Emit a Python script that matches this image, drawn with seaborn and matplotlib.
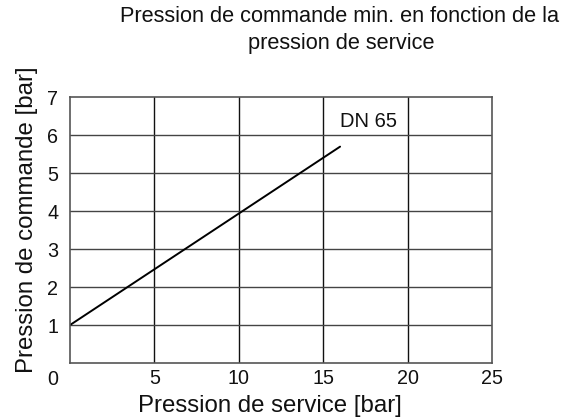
import matplotlib
matplotlib.use("Agg")
import matplotlib.pyplot as plt
import seaborn as sns
import pandas as pd

# Minimum control pressure vs. operating pressure, DN 65
service_pressure = [0, 16]
control_pressure = [1.0, 5.7]
series_label = "DN 65"
x_ticks = [5, 10, 15, 20, 25]
y_ticks = [1, 2, 3, 4, 5, 6, 7]

sns.set_theme(style="white")
plt.rcParams["font.family"] = ["Liberation Sans", "DejaVu Sans"]

df = pd.DataFrame({"service": service_pressure, "commande": control_pressure})

W, H = 586, 418
x0, x1, y_top, y_bot = 70, 492, 97.3, 363
fig = plt.figure(figsize=(W / 100, H / 100), dpi=100)
ax = fig.add_axes([x0 / W, 1 - y_bot / H, (x1 - x0) / W, (y_bot - y_top) / H])

sns.lineplot(data=df, x="service", y="commande", color="black", linewidth=1.4, ax=ax)

tick_fs = 14.2
ax.set_xlim(0, 25)
ax.set_ylim(0, 7)
ax.set_xticks(x_ticks)
ax.set_yticks(y_ticks)
ax.tick_params(axis="both", length=0, labelsize=tick_fs, colors="#111111")
ax.tick_params(axis="x", pad=4.5)
ax.tick_params(axis="y", pad=8.5)

for v in x_ticks[:-1]:
    ax.axvline(v, color="#111111", linewidth=1.0, zorder=0)
for v in y_ticks[:-1]:
    ax.axhline(v, color="#444444", linewidth=1.0, zorder=0)
for s in ax.spines.values():
    s.set_color("#555555")
    s.set_linewidth(1.2)

aw, ah = x1 - x0, y_bot - y_top

# shared origin label at the corner
ax.text((53 - x0) / aw, (y_bot - 379.5) / ah, "0", transform=ax.transAxes,
        ha="center", va="center", fontsize=tick_fs, color="#111111")

ax.text(16, 6.35, series_label, ha="left", va="center", fontsize=14.5, color="#111111")

ax.set_xlabel("Pression de service [bar]", fontsize=17.3, color="#111111")
ax.xaxis.label.set_va("baseline")
ax.xaxis.set_label_coords((270 - x0) / aw, (y_bot - 412) / ah)

ax.set_ylabel("Pression de commande [bar]", fontsize=17.3, color="#111111")
ax.yaxis.label.set_va("baseline")
ax.yaxis.set_label_coords((33 - x0) / aw, (y_bot - 219.5) / ah)

fig.text(340 / W, 1 - 17 / H, "Pression de commande min. en fonction de la",
         ha="center", va="center", fontsize=15.7, color="#111111")
fig.text(341 / W, 1 - 43 / H, "pression de service",
         ha="center", va="center", fontsize=15.7, color="#111111")

fig.savefig("out.png", dpi=100)
